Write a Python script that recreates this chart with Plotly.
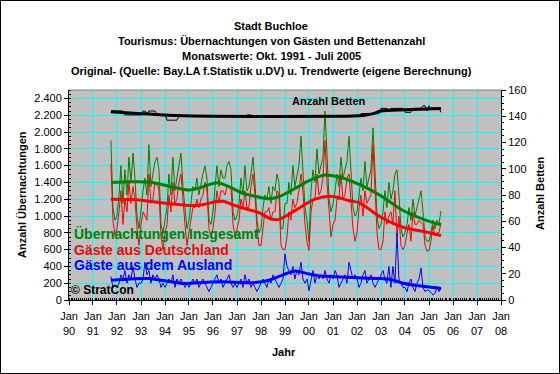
import plotly.graph_objects as go
import pandas as pd

# ---------------- data ----------------
start_month = "1991-10-01"

# Übernachtungen insgesamt, monthly Oct 1991 .. Jul 2005
green = [
    1900, 1100, 950,
    1000, 1250, 1600, 1150, 1550, 1250, 1700, 1400, 1750, 1450, 1000, 850,
    1100, 1300, 1450, 1250, 1850, 1350, 1500, 1650, 1700, 1550, 900, 800,
    950, 1100, 1500, 1250, 1700, 1300, 1450, 1600, 1750, 1350, 1050, 850,
    950, 1200, 1350, 1300, 1450, 1250, 1400, 1500, 1600, 1450, 950, 900,
    1050, 1300, 1600, 1350, 1550, 1450, 1450, 1600, 1650, 1550, 1050, 950,
    1000, 1150, 1450, 1250, 1600, 1300, 1350, 1500, 1700, 1400, 950, 800,
    850, 1100, 1250, 1200, 1350, 1150, 1350, 1300, 1500, 1400, 850, 850,
    1150, 1150, 1400, 1250, 1600, 1350, 1500, 1600, 1950, 1550, 1100, 950,
    700, 1300, 1550, 1400, 1800, 1500, 1600, 1700, 2250, 1650, 1200, 1050,
    1150, 1300, 1500, 1350, 1700, 1450, 1550, 1650, 1950, 1550, 1100, 1000,
    1050, 1250, 1450, 1300, 1650, 1350, 1450, 1550, 2050, 1450, 1000, 850,
    900, 1050, 1300, 1100, 1400, 1200, 1300, 1500, 1550, 1250, 850, 750,
    800, 900, 1100, 950, 1200, 1000, 1100, 1200, 1300, 1050, 750, 700,
    700, 800, 950, 850, 950, 900, 1060,
]

# Gäste aus Deutschland
red = [
    1620, 950, 770,
    850, 1050, 1300, 900, 1200, 1050, 1400, 1150, 1350, 1200, 850, 650,
    900, 1050, 1000, 950, 1500, 1150, 1200, 1400, 1400, 1300, 750, 600,
    800, 900, 1250, 1050, 1400, 1150, 1200, 1400, 1500, 1150, 900, 650,
    800, 1000, 1100, 1100, 1200, 1100, 1200, 1250, 1400, 1300, 850, 750,
    850, 1050, 1300, 1150, 1300, 1300, 1250, 1350, 1350, 1350, 900, 750,
    850, 950, 1200, 1100, 1300, 1100, 1100, 1350, 1500, 1250, 850, 650,
    650, 850, 1050, 1050, 1100, 950, 1050, 1050, 1300, 1250, 650, 600,
    600, 750, 1050, 950, 1200, 1100, 1150, 1300, 1500, 1300, 900, 700,
    590, 1050, 1200, 1200, 1500, 1250, 1300, 1450, 1900, 1400, 1000, 750,
    900, 950, 1200, 1200, 1500, 1200, 1250, 1450, 1500, 1200, 850, 700,
    800, 1100, 1250, 1000, 1300, 1150, 1200, 1250, 1850, 1300, 800, 600,
    600, 700, 1050, 900, 1000, 1050, 900, 1300, 750, 1000, 650, 600,
    650, 800, 900, 700, 1050, 900, 900, 950, 920, 900, 650, 580,
    590, 710, 890, 770, 800, 800, 920,
]

# Gäste aus dem Ausland
blue = [
    280, 150, 180,
    150, 200, 300, 250, 350, 200, 300, 250, 400, 250, 150, 200,
    200, 250, 450, 300, 350, 200, 300, 250, 300, 250, 150, 200,
    150, 200, 250, 200, 300, 150, 250, 200, 250, 200, 150, 200,
    150, 200, 250, 200, 250, 150, 200, 250, 200, 150, 100, 150,
    200, 250, 300, 200, 250, 150, 200, 250, 300, 200, 150, 200,
    150, 200, 250, 150, 300, 200, 250, 150, 200, 150, 100, 150,
    200, 250, 200, 150, 250, 200, 300, 250, 200, 150, 200, 250,
    550, 400, 350, 300, 400, 250, 350, 300, 450, 250, 200, 250,
    110, 250, 350, 200, 300, 250, 300, 250, 350, 250, 200, 300,
    250, 350, 300, 150, 200, 250, 300, 200, 450, 350, 250, 300,
    250, 150, 200, 300, 350, 200, 250, 300, 200, 150, 200, 250,
    300, 350, 250, 200, 400, 150, 400, 200, 800, 250, 200, 150,
    150, 100, 200, 250, 150, 100, 200, 250, 380, 150, 100, 120,
    110, 90, 60, 80, 150, 100, 140,
]

# Anzahl Betten (right axis)
betten = [
    144, 144, 144,
    144, 144, 144, 144, 141, 141, 141, 141, 141, 141, 141, 141,
    141, 144, 144, 142, 144, 144, 144, 144, 141, 141, 141, 141,
    141, 137, 137, 137, 137, 137, 137, 140, 140, 140, 140, 140,
    140, 140, 140, 140, 140, 140, 140, 140, 140, 140, 140, 140,
    140, 140, 140, 140, 140, 140, 140, 140, 140, 140, 140, 140,
    140, 140, 140, 140, 140, 141, 141, 141, 140, 140, 140, 140,
    140, 140, 140, 140, 140, 140, 140, 140, 140, 140, 140, 140,
    140, 140, 140, 140, 140, 140, 140, 140, 140, 140, 140, 140,
    140, 140, 140, 140, 140, 140, 140, 140, 140, 140, 140, 140,
    140, 140, 140, 140, 140, 140, 140, 140, 140, 140, 140, 140,
    140, 140, 142, 142, 142, 142, 142, 142, 142, 142, 142, 142,
    146, 146, 146, 146, 145, 146, 146, 146, 146, 146, 146, 146,
    143, 143, 143, 143, 146, 146, 146, 146, 146, 148, 148, 144,
    148, 146, 146, 146, 146, 146, 143,
]

# Trend values (eigene Berechnung), read at selected dates
green_trend_dates = ["1991-10-01", "1992-07-01", "1993-05-01", "1994-04-01", "1995-01-01",
                     "1995-07-01", "1996-03-01", "1996-09-01", "1997-03-01", "1997-10-01",
                     "1998-05-01", "1998-11-01", "1999-07-01", "2000-01-01", "2000-09-01",
                     "2001-05-01", "2002-04-01", "2003-01-01", "2003-12-01", "2004-12-01",
                     "2005-07-01"]
green_trend = [1400, 1408, 1405, 1350, 1310, 1340, 1395, 1350, 1280, 1235,
               1205, 1240, 1340, 1420, 1488, 1458, 1355, 1240, 1065, 945, 895]

red_trend_dates = ["1991-10-01", "1992-09-01", "1993-07-01", "1994-02-01", "1995-02-01",
                   "1995-08-01", "1996-02-01", "1996-06-01", "1996-12-01", "1997-06-01",
                   "1997-12-01", "1998-06-01", "1998-10-01", "1999-06-01", "2000-04-01",
                   "2001-01-01", "2001-09-01", "2002-02-01", "2002-06-01", "2003-01-01",
                   "2003-12-01", "2004-12-01", "2005-07-01"]
red_trend = [1200, 1195, 1170, 1150, 1125, 1135, 1170, 1175, 1125, 1080,
             1040, 965, 960, 1064, 1200, 1233, 1182, 1160, 1100, 985,
             866, 807, 768]

blue_trend_dates = ["1991-10-01", "1992-08-01", "1993-05-01", "1994-10-01", "1995-10-01",
                    "1996-06-01", "1997-08-01", "1998-05-01", "1998-12-01", "1999-06-01",
                    "2000-01-01", "2000-07-01", "2001-06-01", "2002-04-01", "2003-01-01",
                    "2003-06-01", "2003-12-01", "2004-12-01", "2005-07-01"]
blue_trend = [236, 250, 256, 197, 212, 217, 205, 235, 300, 345,
              310, 285, 275, 262, 255, 245, 200, 157, 138]

betten_trend_dates = ["1991-10-01", "1993-01-01", "1994-07-01", "1996-01-01", "2001-06-01",
                      "2002-04-01", "2002-09-01", "2003-01-01", "2004-01-01", "2005-07-01"]
betten_trend = [143.5, 142, 140.5, 140, 140, 140.5, 142, 144, 145, 146]

x_range = ["1990-01-01", "2008-01-01"]
y_left_range = [0, 2500]
y_right_range = [0, 160]

title_lines = [
    "Stadt Buchloe",
    "Tourismus: Übernachtungen von Gästen und Bettenanzahl",
    "Monatswerte: Okt. 1991 - Juli 2005",
    "Original- (Quelle: Bay.LA f.Statistik u.DV) u. Trendwerte (eigene Berechnung)",
]

# ---------------- figure ----------------
months = pd.date_range(start_month, periods=len(green), freq="MS")

FONT = "Liberation Sans, Arial, sans-serif"
GREEN = "#008000"
RED = "#FF0000"
BLUE = "#0000FF"
BLACK = "#000000"

L, R, T, B = 69, 59, 90, 74
W, H = 560, 374
PW, PH = W - L - R, H - T - B


def px(x):
    return (x - L) / PW


def py(y):
    return (H - B - y) / PH


fig = go.Figure()

# original series
fig.add_trace(go.Scatter(x=months, y=green, mode="lines",
                         line=dict(color=GREEN, width=1), hoverinfo="skip"))
fig.add_trace(go.Scatter(x=months, y=red, mode="lines",
                         line=dict(color=RED, width=1), hoverinfo="skip"))
fig.add_trace(go.Scatter(x=months, y=blue, mode="lines",
                         line=dict(color=BLUE, width=1), hoverinfo="skip"))
fig.add_trace(go.Scatter(x=months, y=betten, mode="lines", yaxis="y2",
                         line=dict(color=BLACK, width=1), hoverinfo="skip"))

# trends
fig.add_trace(go.Scatter(x=pd.to_datetime(green_trend_dates), y=green_trend, mode="lines",
                         line=dict(color=GREEN, width=3, shape="spline", smoothing=0.8)))
fig.add_trace(go.Scatter(x=pd.to_datetime(red_trend_dates), y=red_trend, mode="lines",
                         line=dict(color=RED, width=3, shape="spline", smoothing=0.8)))
fig.add_trace(go.Scatter(x=pd.to_datetime(blue_trend_dates), y=blue_trend, mode="lines",
                         line=dict(color=BLUE, width=3, shape="spline", smoothing=0.8)))
fig.add_trace(go.Scatter(x=pd.to_datetime(betten_trend_dates), y=betten_trend, mode="lines",
                         yaxis="y2",
                         line=dict(color=BLACK, width=3, shape="spline", smoothing=0.8)))

tick_font = dict(family=FONT, size=11, color=BLACK)

fig.update_layout(
    width=W, height=H,
    margin=dict(l=L, r=R, t=T, b=B, pad=0),
    paper_bgcolor="white",
    plot_bgcolor="#C0C0C0",
    showlegend=False,
    separators=",.",
    font=dict(family=FONT, size=11, color=BLACK),
    xaxis=dict(
        type="date", range=x_range, tick0="1990-01-01", dtick="M12",
        tickformat="%b<br>%y", tickfont=tick_font, ticklabelstandoff=2,
        showgrid=True, gridcolor="#00FFFF", gridwidth=1,
        showline=True, linecolor=BLACK, linewidth=1,
        ticks="outside", ticklen=4, tickcolor=BLACK,
        minor=dict(dtick="M1", ticks="inside", ticklen=2, tickcolor=BLACK, showgrid=False),
        zeroline=False, fixedrange=True,
    ),
    yaxis=dict(
        range=y_left_range, dtick=200, tick0=0, tickformat=",d", tickfont=tick_font,
        showgrid=True, gridcolor="#00FFFF", gridwidth=1,
        showline=True, linecolor=BLACK, linewidth=1,
        ticks="outside", ticklen=4, tickcolor=BLACK,
        minor=dict(dtick=50, ticks="inside", ticklen=2, tickcolor=BLACK, showgrid=False),
        zeroline=False, fixedrange=True,
    ),
    yaxis2=dict(
        range=y_right_range, dtick=20, tick0=0, overlaying="y", side="right",
        tickfont=tick_font, showgrid=False,
        showline=True, linecolor=BLACK, linewidth=1,
        ticks="outside", ticklen=4, tickcolor=BLACK,
        minor=dict(dtick=5, ticks="outside", ticklen=2, tickcolor=BLACK, showgrid=False),
        zeroline=False, fixedrange=True,
    ),
)

annotations = []
title_y = [25.5, 40.8, 56, 71.3]
for text, ty in zip(title_lines, title_y):
    annotations.append(dict(text=text, x=px(271), y=py(ty), xref="paper", yref="paper",
                            xanchor="center", yanchor="middle", showarrow=False,
                            font=dict(family=FONT, size=11, color=BLACK, weight="bold")))

annotations += [
    dict(text="Übernachtungen Insgesamt", x=px(72), y=py(234), xref="paper", yref="paper",
         xanchor="left", yanchor="middle", showarrow=False,
         font=dict(family=FONT, size=14, color=GREEN, weight="bold")),
    dict(text="Gäste aus Deutschland", x=px(72), y=py(249.5), xref="paper", yref="paper",
         xanchor="left", yanchor="middle", showarrow=False,
         font=dict(family=FONT, size=14, color=RED, weight="bold")),
    dict(text="Gäste aus dem Ausland", x=px(72), y=py(265), xref="paper", yref="paper",
         xanchor="left", yanchor="middle", showarrow=False,
         font=dict(family=FONT, size=14, color=BLUE, weight="bold")),
    dict(text="© StratCon", x=px(69), y=py(290), xref="paper", yref="paper",
         xanchor="left", yanchor="middle", showarrow=False,
         font=dict(family=FONT, size=12, color=BLACK, weight="bold")),
    dict(text="Anzahl Betten", x=px(290), y=py(101), xref="paper", yref="paper",
         xanchor="left", yanchor="middle", showarrow=False,
         font=dict(family=FONT, size=11, color=BLACK, weight="bold")),
    dict(text="Anzahl Übernachtungen", x=px(22), y=py(195), xref="paper", yref="paper",
         xanchor="center", yanchor="middle", showarrow=False, textangle=-90,
         font=dict(family=FONT, size=11, color=BLACK, weight="bold")),
    dict(text="Anzahl Betten", x=px(540), y=py(193), xref="paper", yref="paper",
         xanchor="center", yanchor="middle", showarrow=False, textangle=-90,
         font=dict(family=FONT, size=11, color=BLACK, weight="bold")),
    dict(text="Jahr", x=px(284), y=py(352), xref="paper", yref="paper",
         xanchor="center", yanchor="middle", showarrow=False,
         font=dict(family=FONT, size=11, color=BLACK, weight="bold")),
]
fig.update_layout(annotations=annotations)

fig.update_layout(shapes=[
    # outer frame
    dict(type="rect", xref="paper", yref="paper",
         x0=px(0.5), x1=px(W - 0.5), y0=py(H - 0.5), y1=py(0.5),
         line=dict(color=BLACK, width=1), fillcolor="rgba(0,0,0,0)", layer="above"),
    # top border of plot area
    dict(type="line", xref="paper", yref="paper", x0=0, x1=1, y0=1, y1=1,
         line=dict(color="#808080", width=1), layer="above"),
])

fig.write_html("out.html", config={"displayModeBar": False},
               post_script="document.body.style.margin='0';")
